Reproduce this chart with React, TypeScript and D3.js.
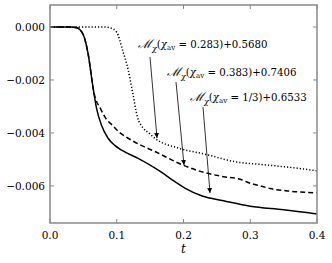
import { useEffect, useRef } from 'react';
import * as d3 from 'd3';

const W = 332;
const H = 263;

// chi_av = 1/3 (solid)
const tSolid = [0, 0.03, 0.04, 0.05, 0.057, 0.064, 0.07, 0.077, 0.087, 0.097, 0.108, 0.132, 0.168, 0.183, 0.202, 0.228, 0.26, 0.3, 0.35, 0.4];
const vSolid = [0, 0, -0.00003, -0.0003, -0.001, -0.0022, -0.0031, -0.0037, -0.0042, -0.00447, -0.00466, -0.00496, -0.0055, -0.00577, -0.00608, -0.00638, -0.00656, -0.00677, -0.0069, -0.00706];

// chi_av = 0.383 (dashed)
const tDashed = [0, 0.03, 0.04, 0.05, 0.057, 0.066, 0.076, 0.085, 0.093, 0.105, 0.117, 0.135, 0.157, 0.198, 0.232, 0.26, 0.285, 0.3, 0.315, 0.33, 0.36, 0.4];
const vDashed = [0, 0, -0.00003, -0.0003, -0.001, -0.0025, -0.0031, -0.0035, -0.0037, -0.004, -0.0042, -0.00445, -0.0047, -0.0052, -0.0055, -0.00565, -0.00575, -0.0059, -0.006, -0.0061, -0.0062, -0.00626];

// chi_av = 0.283 (dotted)
const tDotted = [0, 0.08, 0.09, 0.1, 0.109, 0.117, 0.124, 0.131, 0.139, 0.148, 0.157, 0.192, 0.232, 0.28, 0.32, 0.36, 0.4];
const vDotted = [0, 0, -0.00003, -0.0002, -0.0009, -0.0016, -0.0025, -0.0034, -0.0038, -0.004, -0.0042, -0.00457, -0.0048, -0.0051, -0.0052, -0.0053, -0.00543];

const xTicks = [0, 0.1, 0.2, 0.3, 0.4];
const yTicks = [0, -0.002, -0.004, -0.006];

const labels = [
  { chi: '0.283', off: '+0.5680', tx: 138, ty: 48, from: [150, 57], to: [157, 138] },
  { chi: '0.383', off: '+0.7406', tx: 167, ty: 76, from: [176, 82], to: [184, 165] },
  { chi: '1/3', off: '+0.6533', tx: 190, ty: 101, from: [203, 107], to: [210, 193] },
];

export default function App() {
  const ref = useRef<SVGSVGElement>(null);

  useEffect(() => {
    const svg = d3.select(ref.current);
    svg.selectAll('*').remove();

    const x = d3.scaleLinear().domain([0, 0.4]).range([50, 317]);
    const y = d3.scaleLinear().domain([0, -0.0074]).range([27, 223]);
    const yTop = y.invert(5);
    y.domain([yTop, -0.0074]).range([5, 223]);

    const font = 'DejaVu Serif';
    const axisColor = '#888';

    svg.append('defs').append('marker')
      .attr('id', 'ah')
      .attr('viewBox', '0 0 10 10')
      .attr('refX', 10).attr('refY', 5)
      .attr('markerWidth', 5).attr('markerHeight', 7)
      .attr('markerUnits', 'userSpaceOnUse')
      .attr('orient', 'auto')
      .append('path').attr('d', 'M0,0 L10,5 L0,10 Z').attr('fill', '#000');

    const line = d3.line<[number, number]>()
      .x(d => x(d[0]))
      .y(d => y(d[1]))
      .curve(d3.curveMonotoneX);

    const series = [
      { t: tDotted, v: vDotted, dash: '1.2,2' },
      { t: tDashed, v: vDashed, dash: '5,3' },
      { t: tSolid, v: vSolid, dash: null },
    ];

    series.forEach(s => {
      const pts = s.t.map((t, i) => [t, s.v[i]] as [number, number]);
      svg.append('path')
        .attr('d', line(pts))
        .attr('fill', 'none')
        .attr('stroke', '#000')
        .attr('stroke-width', 1.5)
        .attr('stroke-dasharray', s.dash);
    });

    // frame
    const [x0, x1] = x.range();
    const [y0, y1] = y.range();
    svg.append('rect')
      .attr('x', x0).attr('y', y0)
      .attr('width', x1 - x0).attr('height', y1 - y0)
      .attr('fill', 'none')
      .attr('stroke', axisColor)
      .attr('stroke-width', 1.5);

    xTicks.forEach(t => {
      svg.append('line').attr('x1', x(t)).attr('x2', x(t)).attr('y1', y1).attr('y2', y1 - 4)
        .attr('stroke', axisColor).attr('stroke-width', 1);
      svg.append('line').attr('x1', x(t)).attr('x2', x(t)).attr('y1', y0).attr('y2', y0 + 4)
        .attr('stroke', axisColor).attr('stroke-width', 1);
      svg.append('text')
        .attr('x', x(t)).attr('y', y1 + 16)
        .attr('text-anchor', 'middle')
        .attr('font-family', font).attr('font-size', 10.5)
        .text(d3.format('.1f')(t));
    });

    yTicks.forEach(v => {
      svg.append('line').attr('x1', x0).attr('x2', x0 + 4).attr('y1', y(v)).attr('y2', y(v))
        .attr('stroke', axisColor).attr('stroke-width', 1);
      svg.append('line').attr('x1', x1).attr('x2', x1 - 4).attr('y1', y(v)).attr('y2', y(v))
        .attr('stroke', axisColor).attr('stroke-width', 1);
      svg.append('text')
        .attr('x', x0 - 5).attr('y', y(v) + 4)
        .attr('text-anchor', 'end')
        .attr('font-family', font).attr('font-size', 10.5)
        .text(d3.format('.3f')(v).replace('-', '\u2212'));
    });

    svg.append('text')
      .attr('x', x(0.2)).attr('y', 253)
      .attr('text-anchor', 'middle')
      .attr('font-family', font).attr('font-size', 12)
      .attr('font-style', 'italic')
      .text('t');

    labels.forEach(l => {
      const txt = svg.append('text')
        .attr('x', l.tx).attr('y', l.ty)
        .attr('font-family', font).attr('font-size', 10.2);
      txt.append('tspan').attr('font-style', 'italic').attr('font-size', 12).text('\u2133');
      txt.append('tspan').attr('font-style', 'italic').attr('font-size', 8).attr('dy', 3).text('\u03c7');
      txt.append('tspan').attr('dy', -3).text('(');
      txt.append('tspan').attr('font-style', 'italic').text('\u03c7');
      txt.append('tspan').attr('font-size', 7).attr('dy', 2).text('av');
      txt.append('tspan').attr('dy', -2).text(` = ${l.chi})${l.off}`);

      svg.append('line')
        .attr('x1', l.from[0]).attr('y1', l.from[1])
        .attr('x2', l.to[0]).attr('y2', l.to[1])
        .attr('stroke', '#000').attr('stroke-width', 0.8)
        .attr('marker-end', 'url(#ah)');
    });
  }, []);

  return (
    <svg
      ref={ref}
      width={W}
      height={H}
      viewBox={`0 0 ${W} ${H}`}
      style={{ position: 'absolute', left: 0, top: 0, background: '#fff' }}
    />
  );
}
